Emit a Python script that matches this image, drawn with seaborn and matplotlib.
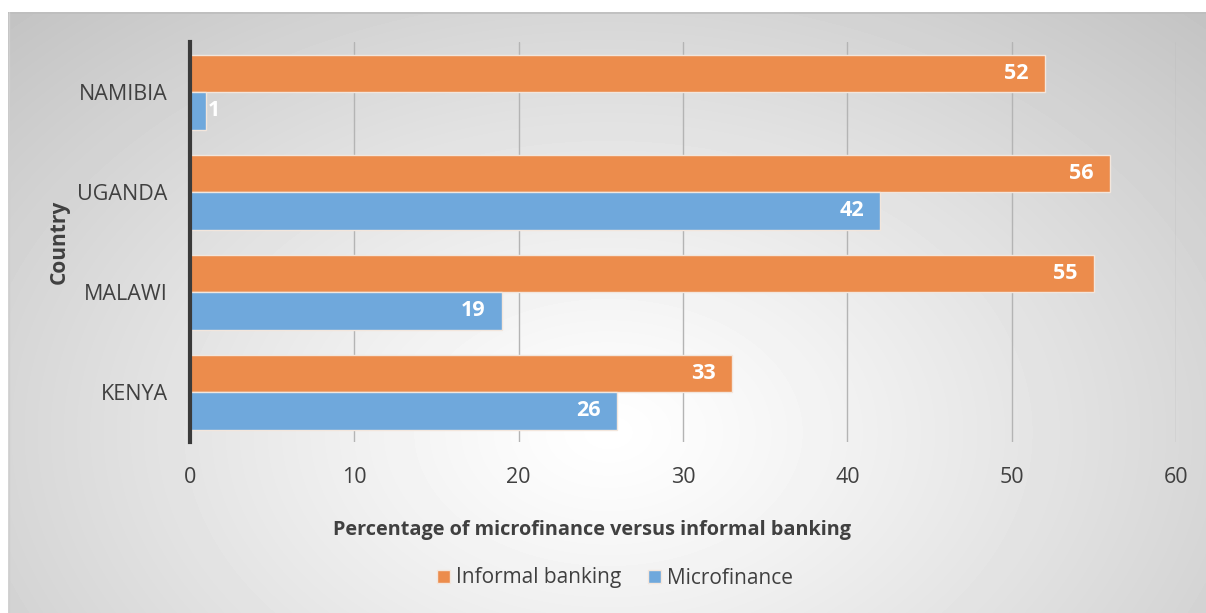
import numpy as np
import pandas as pd
import matplotlib
matplotlib.use("Agg")
import matplotlib.pyplot as plt
import seaborn as sns

countries = ["NAMIBIA", "UGANDA", "MALAWI", "KENYA"]
informal_banking = [52, 56, 55, 33]
microfinance = [1, 42, 19, 26]
series_names = ["Informal banking", "Microfinance"]
x_ticks = [0, 10, 20, 30, 40, 50, 60]

df = pd.DataFrame({
    "Country": countries * 2,
    "Series": [series_names[0]] * len(countries) + [series_names[1]] * len(countries),
    "Value": informal_banking + microfinance,
})

sns.set_theme(style="white")
plt.rcParams["font.family"] = ["Open Sans", "DejaVu Sans"]

W, H = 1206, 613
fig = plt.figure(figsize=(W / 100, H / 100), dpi=100)
fig.patch.set_facecolor("white")

# soft radial backdrop behind the chart panel
px0, py0 = 8, 12
bg = fig.add_axes([px0 / W, 0, 1 - px0 / W, 1 - py0 / H], zorder=-10)
gw, gh = W - px0, H - py0
xx, yy = np.meshgrid(np.arange(gw), np.arange(gh))
cx, cy = 600, 420
d = np.sqrt(((xx - cx) / 640.0) ** 2 + ((yy - cy) / 440.0) ** 2)
shade = 1.0 - 0.235 * np.clip(d / 1.33, 0, 1) ** 1.15
bg.imshow(shade, cmap="gray", vmin=0, vmax=1, aspect="auto",
          extent=[0, gw, gh, 0], interpolation="bilinear")
bg.plot([0, gw], [0.5, 0.5], color="#bdbdbd", lw=1.2)
bg.plot([0.5, 0.5], [0, gh], color="#cfcfcf", lw=1.0)
bg.set_xlim(0, gw)
bg.set_ylim(gh, 0)
bg.axis("off")

ax_w = 1176 - 190
ax = fig.add_axes([190 / W, 1 - 442 / H, ax_w / W, (442 - 42) / H])
ax.set_facecolor("none")

palette = {series_names[0]: "#EC8C4C", series_names[1]: "#6FA8DC"}
sns.barplot(data=df, x="Value", y="Country", hue="Series", order=countries,
            hue_order=series_names, palette=palette, orient="h", width=0.75,
            edgecolor="#f3e6dc", linewidth=1.0, saturation=1, ax=ax,
            legend=True, zorder=3)

ax.set_xlim(0, 60)
ax.set_xticks(x_ticks)
ax.set_xticklabels([str(t) for t in x_ticks])
ax.grid(axis="x", color="#b4b4b4", linewidth=1.0, zorder=0)
ax.grid(axis="y", visible=False)
for s in ["top", "right", "bottom"]:
    ax.spines[s].set_visible(False)
ax.spines["left"].set_color("#3a3a3a")
ax.spines["left"].set_linewidth(3)
ax.spines["left"].set_zorder(5)
ax.tick_params(axis="both", length=0, labelsize=15.5, colors="#404040")
ax.tick_params(axis="x", pad=18)
ax.tick_params(axis="y", pad=16)

ax.set_xlabel("Percentage of microfinance versus informal banking",
              fontsize=14.3, fontweight="bold", color="#404040", labelpad=22)
ax.xaxis.set_label_coords((592 - 190) / ax_w, -0.195)
ax.set_ylabel("Country", fontsize=15, fontweight="bold", color="#404040")
ax.yaxis.set_label_coords(-120 / ax_w, 0.5)

# value labels: inside the bar end, or just outside for very short bars
for cont in ax.containers:
    for bar in cont:
        v = bar.get_width()
        yc = bar.get_y() + bar.get_height() / 2
        if v >= 5:
            ax.text(v - 1.0, yc, f"{v:.0f}", ha="right", va="center",
                    color="white", fontsize=15.5, fontweight="bold", zorder=6)
        else:
            ax.text(v + 0.1, yc, f"{v:.0f}", ha="left", va="center",
                    color="white", fontsize=15.5, fontweight="bold", zorder=6)

handles, labels = ax.get_legend_handles_labels()
ax.legend_.remove()
fig.legend(handles, labels, loc="center", bbox_to_anchor=(615 / W, 1 - 578 / H),
           ncol=2, frameon=False, fontsize=15, handlelength=0.6, handleheight=0.6,
           handletextpad=0.3, columnspacing=1.3, labelcolor="#404040")

fig.savefig("out.png", dpi=100)
